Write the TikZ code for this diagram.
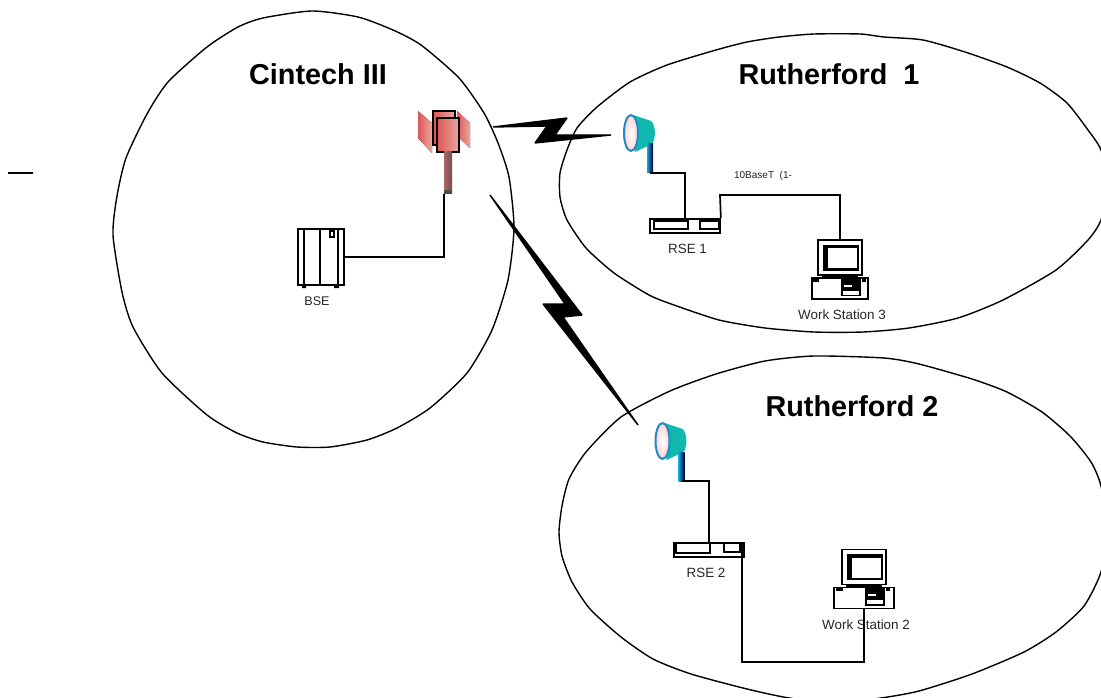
\documentclass[tikz,border=0pt]{standalone}
\usepackage{fontspec}
\setmainfont{Liberation Sans}
\usetikzlibrary{positioning}

\definecolor{dishteal}{HTML}{10B8B0}
\definecolor{dishrim}{HTML}{1F8CC4}
\definecolor{dishpost}{HTML}{12A6E0}
\definecolor{panelred}{HTML}{DC5858}
\definecolor{panelpale}{HTML}{E8A8A0}
\definecolor{polered}{HTML}{A86868}
\definecolor{polebrown}{HTML}{7A4A4A}

\tikzset{
	zone/.style={line width=1.4pt,smooth cycle,tension=0.4},
	wire/.style={line width=1.7pt},
	bolt/.style={fill=black,draw=black,line width=1.4pt,line join=bevel},
	devbox/.style={draw,line width=1.7pt,inner sep=0pt,fill=white},
	title/.style={inner sep=0pt,font=\fontsize{28.8}{30}\selectfont\bfseries},
	tag/.style={inner sep=0pt,text=black!85,font=\fontsize{13.4}{15}\selectfont},
	pics/dish/.style={code={
		\fill[dishteal] (2,-18) -- (20,-12) .. controls (25,-8) and (25,6) .. (21,11) -- (4,19) -- cycle;
		\node[left color=dishpost,right color=black!80!blue,minimum width=6pt,minimum height=29pt,inner sep=0pt] (-post) at (19,25.5) {};
		\draw[draw=dishrim,line width=2pt,inner color=white,outer color=red!18] (0,0) ellipse [x radius=7,y radius=18];
	}},
	pics/workstation/.style={code={
		\node[devbox,minimum width=44pt,minimum height=35pt] (-mon) at (0,0) {};
		\fill[black] (-17,-13) rectangle (19,13);
		\fill[white] (-12,-9.5) rectangle (17,10.5);
		\draw[line width=2.4pt] (-18,19) -- (18,19);
		\node[devbox,minimum width=#1pt,minimum height=21pt] (-base) at (0,31) {};
		\fill[black] (2,21) rectangle (20,32);
		\fill[white] (4,27) rectangle (12,29);
		\draw[line width=1.4pt] (2,21) rectangle (20,38);
		\draw[line width=1.2pt] (2,32.5) -- (20,32.5);
		\fill[black] (-28,21) rectangle (-21,24);
		\fill[black] (22,21) rectangle (26,24);
	}}
}

\begin{document}
\begin{tikzpicture}[x=1pt,y=-1pt]
	\useasboundingbox (0,0) rectangle (1101,698);
	\clip (0,0) rectangle (1101,698);

	% the three zones
	\draw[zone] plot coordinates {(312,11) (263,18) (238,27) (207,47) (168,82) (147,114) (126,158) (117,196) (113,235) (122,292) (133,327) (162,373) (207,415) (237,433) (263,442) (297,447) (330,447) (367,440) (397,428) (430,408) (467,373) (492,330) (508,280) (514,228) (509,177) (498,143) (484,113) (459,78) (421,45) (393,30) (358,17)};
	\draw[zone] plot coordinates {(814,34) (779,37) (747,42) (716,50) (667,65) (630,82) (597,107) (577,128) (567,150) (560,173) (560,197) (567,220) (586,248) (614,273) (649,295) (674,305) (719,320) (765,328) (814,332) (863,332) (909,328) (958,318) (1003,300) (1056,270) (1088,240) (1101,220) (1108,185) (1101,150) (1088,130) (1067,103) (1040,83) (1007,67) (965,52) (923,40) (884,37) (860,34)};
	\draw[zone] plot coordinates {(814,356) (884,358) (919,364) (972,379) (1007,392) (1042,412) (1070,436) (1091,462) (1101,486) (1107,530) (1101,572) (1084,606) (1056,632) (1024,652) (972,674) (919,691) (881,698) (835,703) (789,698) (747,689) (691,674) (653,659) (621,637) (590,609) (572,582) (562,556) (559,532) (562,506) (569,479) (586,452) (621,417) (670,391) (716,374) (765,361)};

	\node[title] (cintech) at (318,74) {Cintech III};
	\node[title] (ruth1) at (829,74) {Rutherford\ \ 1};
	\node[title] (ruth2) at (852,406) {Rutherford 2};

	% radio links
	\filldraw[bolt] (493,127) -- (567,118) -- (555,135) -- (611,135) -- (535,143) -- (547,126) -- cycle;
	\filldraw[bolt] (490,195) -- (582,315) -- (563,317) -- (638,425) -- (543,304) -- (565,304) -- cycle;

	% base station
	\node[devbox,minimum width=46pt,minimum height=56pt] (bse) at (321,257) {};
	\draw[wire] (304,229) -- (304,285) (320,229) -- (320,285) (338,229) -- (338,285);
	\draw[line width=1.2pt] (330,231) rectangle (334,237);
	\fill (302,285) rectangle (306,288) (334,285) rectangle (339,288);
	\node[tag,font=\fontsize{12.6}{14}\selectfont,below=11pt of bse,xshift=-4pt] (bselabel) {BSE};

	% tower
	\fill[left color=panelred,right color=panelpale] (418,111) -- (432,123) -- (432,153) -- (418,138) -- cycle;
	\fill[left color=panelred,right color=panelpale] (457,111) -- (470,123) -- (470,148) -- (457,136) -- cycle;
	\draw[line width=1.2pt,left color=panelred,right color=panelpale] (433,111) rectangle (455,145);
	\draw[line width=1.2pt,left color=panelred,right color=panelpale] (437,118) rectangle (459,152);
	\node[left color=polered,right color=polebrown,minimum width=8pt,minimum height=42pt,inner sep=0pt] (pole) at (448,173) {};
	\fill[black!70] (444,190) rectangle (452,194);
	\draw[wire] (bse.east) -| (pole.south west);

	% Rutherford 1 devices
	\pic (dish1) at (631,133) {dish};
	\node[devbox,minimum width=70pt,minimum height=14pt] (rse1) at (685,226) {};
	\draw[wire] (654,221) rectangle (688,229) (700,221) rectangle (719,229);
	\node[tag,below=10pt of rse1,xshift=2.5pt] (rse1label) {RSE 1};
	\pic (ws3) at (840,257.5) {workstation=56};
	\node[tag,below=10pt of ws3-base,xshift=2pt] (ws3label) {Work Station 3};
	\node[tag,font=\fontsize{10}{12}\selectfont] (baset) at (763,176) {10BaseT\ \ (1-};
	\coordinate (bend1) at (720,195);
	\draw[wire] (dish1-post.south) -| (rse1.north);
	\draw[wire] (rse1.north east) -- (bend1) -| (ws3-mon.north);

	% Rutherford 2 devices
	\pic (dish2) at (662.5,441) {dish};
	\node[devbox,minimum width=70pt,minimum height=14pt] (rse2) at (709,550) {};
	\draw[wire] (676,543) rectangle (710,553) (724,543) rectangle (740,552);
	\fill (741,543) rectangle (744,557);
	\node[tag,below=10pt of rse2,xshift=-3pt] (rse2label) {RSE 2};
	\pic (ws2) at (864,567) {workstation=60};
	\node[tag,below=10pt of ws2-base,xshift=2pt] (ws2label) {Work Station 2};
	\coordinate (bend2start) at (742,557);
	\coordinate (bend2) at (742,662);
	\draw[wire] (dish2-post.south) -| (rse2.north);
	\draw[wire] (bend2start) -- (bend2) -| (ws2-base.south);

	% stray dash on the left
	\coordinate (dashl) at (8,173);
	\coordinate (dashr) at (32.5,173);
	\draw[line width=1.3pt] (dashl) -- (dashr);
\end{tikzpicture}
\end{document}
